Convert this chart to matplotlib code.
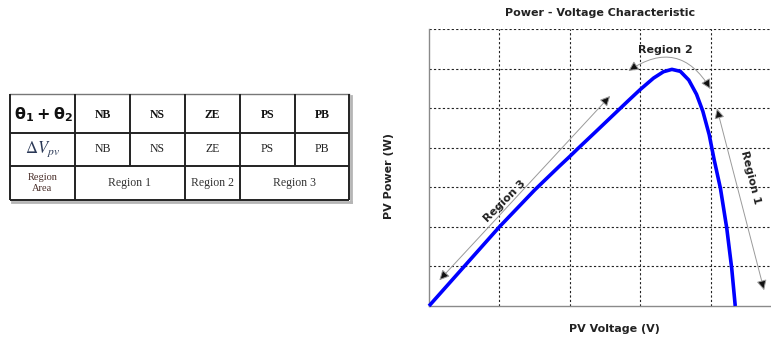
import numpy as np
import matplotlib
matplotlib.use("Agg")
import matplotlib.pyplot as plt
from matplotlib.patches import FancyArrowPatch

# ---- data -------------------------------------------------------------
# P-V characteristic (normalised grid units)
pv_voltage = [0.0, 0.5, 1.0, 1.5, 1.85, 2.0, 2.11, 2.36, 2.59, 2.82, 3.0,
              3.19, 3.33, 3.45, 3.57, 3.69, 3.80, 3.89, 3.98, 4.05, 4.14,
              4.23, 4.30, 4.35]
pv_power = [0.0, 1.0, 2.0, 2.93, 3.53, 3.78, 3.97, 4.39, 4.78, 5.17, 5.47,
            5.76, 5.92, 5.98, 5.93, 5.71, 5.35, 4.92, 4.33, 3.70, 2.97,
            1.96, 0.95, 0.0]

# fuzzy rule table
theta_labels = ["NB", "NS", "ZE", "PS", "PB"]
dv_labels = ["NB", "NS", "ZE", "PS", "PB"]
region_labels = ["Region 1", "Region 2", "Region 3"]
region_spans = [(1, 3), (3, 4), (4, 6)]   # column index ranges

W, H = 771, 338
fig = plt.figure(figsize=(W / 100, H / 100), dpi=100)

# ---- table (drawn in pixel coordinates) -------------------------------
tab = fig.add_axes([0, 0, 1, 1])
tab.set_xlim(0, W)
tab.set_ylim(H, 0)
tab.axis("off")

cols = [10, 75, 130, 185, 240, 295, 349]
rows = [94, 133, 166, 200]
line_kw = dict(color="#222222", lw=1.4, solid_capstyle="butt")

# shadow on right/bottom border
tab.plot([cols[-1] + 2, cols[-1] + 2], [rows[0] + 2, rows[-1] + 2], color="#b5b5b5", lw=2)
tab.plot([cols[0] + 2, cols[-1] + 2], [rows[-1] + 2, rows[-1] + 2], color="#b5b5b5", lw=2)

tab.plot([cols[0], cols[-1]], [rows[0], rows[0]], color="#777777", lw=1.0)
for y in rows[1:]:
    tab.plot([cols[0], cols[-1]], [y, y], **line_kw)
for x in cols:
    if x in (cols[0], cols[1], cols[3], cols[4], cols[-1]):
        tab.plot([x, x], [rows[0], rows[3]], **line_kw)
    else:
        tab.plot([x, x], [rows[0], rows[2]], **line_kw)

serif = "Liberation Serif"
r1 = (rows[0] + rows[1]) / 2
r2 = (rows[1] + rows[2]) / 2
r3 = (rows[2] + rows[3]) / 2
tab.text((cols[0] + cols[1]) / 2 + 1, r1 + 1, r"$\mathbf{\theta_1 + \theta_2}$",
         math_fontfamily="dejavusans", fontsize=11.5, ha="center", va="center",
         color="#111111")
tab.text((cols[0] + cols[1]) / 2, r2, r"$\Delta V_{pv}$", math_fontfamily="stix",
         fontsize=12, ha="center", va="center", color="#2a3856")
tab.text((cols[0] + cols[1]) / 2, r3, "Region\nArea", family=serif,
         fontsize=7.5, ha="center", va="center", color="#4a2f2a", linespacing=1.25)

for i, lab in enumerate(theta_labels):
    cx = (cols[i + 1] + cols[i + 2]) / 2
    tab.text(cx, r1 + 1, lab, family=serif, fontweight="bold", fontsize=8.5,
             ha="center", va="center", color="#111111")
for i, lab in enumerate(dv_labels):
    cx = (cols[i + 1] + cols[i + 2]) / 2
    tab.text(cx, r2, lab, family=serif, fontsize=8.5,
             ha="center", va="center", color="#222222")
for lab, (a, b) in zip(region_labels, region_spans):
    tab.text((cols[a] + cols[b]) / 2, r3, lab, family=serif, fontsize=8.5,
             ha="center", va="center", color="#333333")

# ---- P-V characteristic ------------------------------------------------
x0, x1, y0, y1 = 429, 781, 29, 306
ax = fig.add_axes([x0 / W, (H - y1) / H, (x1 - x0) / W, (y1 - y0) / H])
ax.set_xlim(0, 5)
ax.set_ylim(0, 7)
ax.set_xticks([1, 2, 3, 4])
ax.set_yticks([1, 2, 3, 4, 5, 6, 7])
ax.tick_params(length=0, labelbottom=False, labelleft=False)
ax.grid(True, color="#222222", lw=0.8, linestyle=(0, (2, 2)))
for s in ("top", "right"):
    ax.spines[s].set_visible(False)
for s in ("left", "bottom"):
    ax.spines[s].set_color("#8a8a8a")
    ax.spines[s].set_linewidth(1.0)
ax.set_facecolor("white")

ax.plot(pv_voltage, pv_power, color="#0000ff", lw=2.6, solid_capstyle="butt",
        solid_joinstyle="round", clip_on=False, zorder=3)

arrow_kw = dict(arrowstyle="<|-|>", mutation_scale=15, lw=0.7,
                edgecolor="#9a9a9a", facecolor="#111111", zorder=4)
ax.add_patch(FancyArrowPatch((0.12, 0.60), (2.60, 5.36), **arrow_kw))
ax.add_patch(FancyArrowPatch((2.80, 5.90), (4.02, 5.42),
                             connectionstyle="arc3,rad=-0.55", **arrow_kw))
ax.add_patch(FancyArrowPatch((4.08, 5.06), (4.77, 0.33), **arrow_kw))

lab_kw = dict(fontsize=8, fontweight="bold", color="#222222",
              ha="center", va="center", zorder=5)
ax.text(3.36, 6.47, "Region 2", **lab_kw)
ax.text(1.08, 2.66, "Region 3", rotation=45, **lab_kw)
ax.text(4.56, 3.25, "Region 1", rotation=-76, **lab_kw)

fig.text(600 / W, 1 - 13 / H, "Power - Voltage Characteristic", fontsize=8,
         fontweight="bold", color="#222222", ha="center", va="center")
fig.text(614 / W, 1 - 329 / H, "PV Voltage (V)", fontsize=8,
         fontweight="bold", color="#222222", ha="center", va="center")
fig.text(389 / W, 1 - 176 / H, "PV Power (W)", fontsize=8, rotation=90,
         fontweight="bold", color="#222222", ha="center", va="center")

fig.savefig("out.png", dpi=100, facecolor="white")
